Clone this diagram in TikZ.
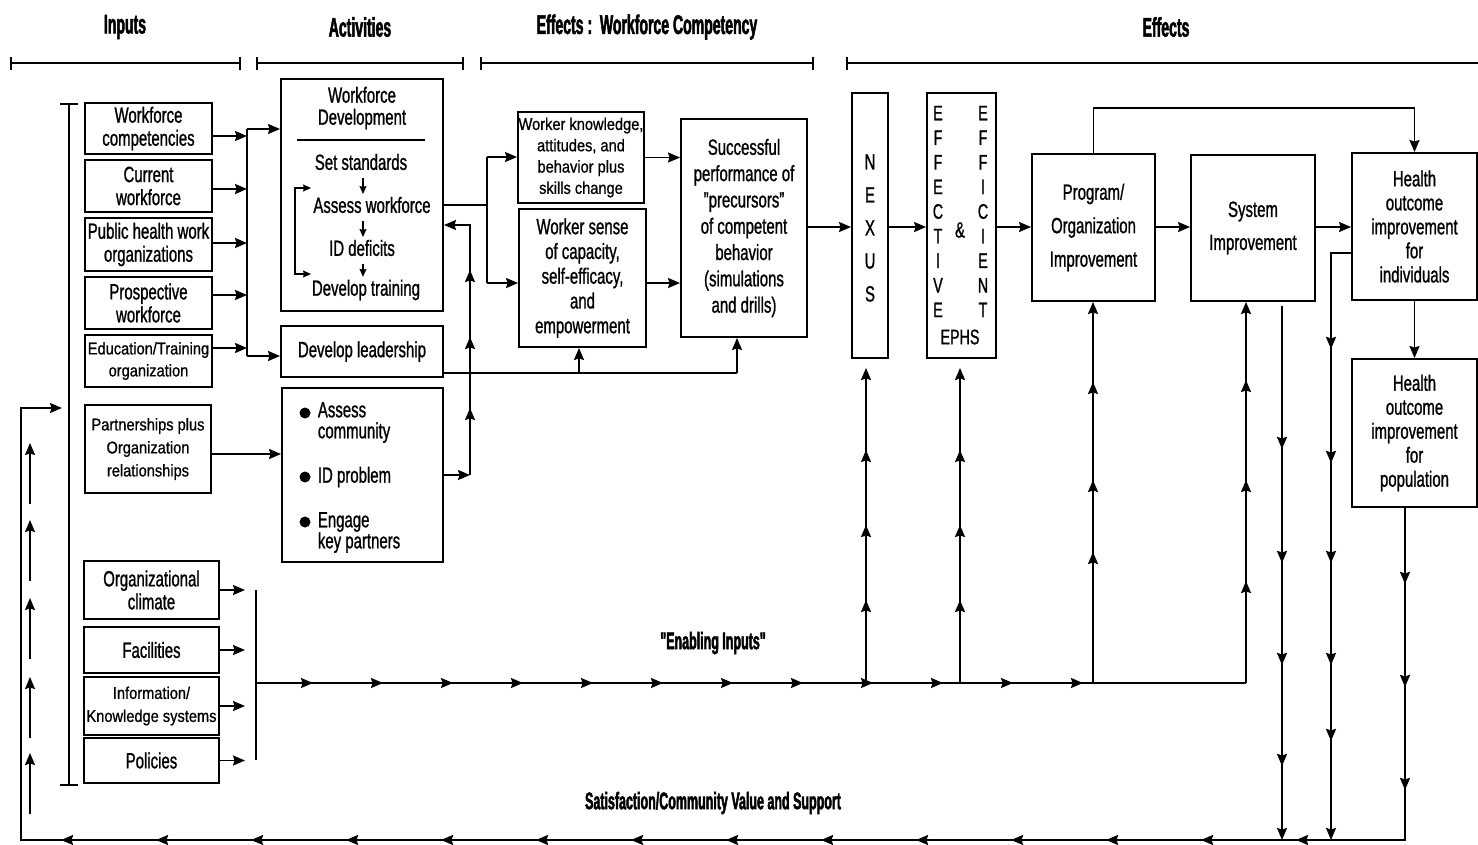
\documentclass[tikz,border=0pt]{standalone}
\usepackage{fontspec}
\setmainfont{Liberation Sans}[FakeStretch=0.68, FakeBold=1]
\newfontfamily\smallfam{Liberation Sans}[FakeStretch=0.86, FakeBold=0.8]
\newfontfamily\headfam{Liberation Sans}[FakeStretch=0.52, BoldFeatures={FakeBold=1.8}]
\usetikzlibrary{arrows.meta,decorations.markings}

\tikzset{
  box/.style={draw, line width=1.9pt, inner sep=0pt, align=center},
  sz/.style 2 args={minimum width=#1, minimum height=#2},
  txt/.style={inner sep=0pt, align=center},
  fs/.style 2 args={font=\fontsize{#1}{#2}\selectfont},
  fss/.style 2 args={font=\smallfam\fontsize{#1}{#2}\selectfont},
  hd/.style={inner sep=0pt, font=\headfam\bfseries\fontsize{#1}{#1}\selectfont},
  marr/.style={postaction={decorate,decoration={markings,
      mark=at position #1 with {\arrow{Stealth[length=12pt,width=10pt,inset=1.5pt]}}}}},
  marrs/.style={postaction={decorate,decoration={markings,
      mark=between positions #1 with {\arrow{Stealth[length=12pt,width=10pt,inset=1.5pt]}}}}},
  sarr/.style={line width=1.3pt, -{Stealth[length=8pt,width=7pt,inset=1pt]}},
  spanbar/.style={line width=1.8pt, {Bar[width=13pt]}-{Bar[width=13pt]}},
}

\begin{document}
\begin{tikzpicture}[x=1pt, y=-1pt, line width=1.8pt,
  >={Stealth[length=12pt,width=10pt,inset=1.5pt]}]

\fill[white] (0,0) rectangle (1478,844);
\useasboundingbox (0,0) rectangle (1478,844);

% ---------- column headings ----------
\node[hd=27] (hIn)  at (125,27)  {Inputs};
\node[hd=27] (hAct) at (360,27)  {Activities};
\node[hd=27] (hWc)  at (647,27)  {Effects :\ \ Workforce Competency};
\node[hd=27] (hEf)  at (1166,27) {Effects};
\draw[spanbar] (10,63) -- (241,63);
\draw[spanbar] (256,63) -- (464,63);
\draw[spanbar] (480,63) -- (814,63);
\draw[line width=1.8pt, {Bar[width=13pt]}-] (846,63) -- (1478,63);

% ---------- inputs ----------
\coordinate (brkT) at (69,104);
\coordinate (brkB) at (69,785);
\draw (brkT) -- (brkB);
\draw ([xshift=-9pt]brkT) -- ([xshift=9pt]brkT);
\draw ([xshift=-9pt]brkB) -- ([xshift=9pt]brkB);

\node[box, sz={127pt}{51pt}, fs={22}{23}] (wc) at (148.5,128.5) {Workforce\\competencies};
\node[box, sz={127pt}{52pt}, fs={22}{23}] (cw) at (148.5,186) {Current\\workforce};
\node[box, sz={127pt}{53pt}, fs={22}{23}] (ph) at (148.5,244.5) {Public health work\\organizations};
\node[box, sz={127pt}{52pt}, fs={22}{23}] (pw) at (148.5,303) {Prospective\\workforce};
\node[box, sz={127pt}{52pt}, fss={17}{22}] (et) at (148.5,361) {Education/Training\\organization};
\node[box, sz={126pt}{88pt}, fss={17}{23}] (pp) at (148,449) {Partnerships plus\\Organization\\relationships};

\node[box, sz={135pt}{58pt}, fs={22}{23}] (oc) at (151.5,590) {Organizational\\climate};
\node[box, sz={135pt}{46pt}, fs={22}{23}] (fa) at (151.5,650) {Facilities};
\node[box, sz={135pt}{58pt}, fss={17}{23}] (ik) at (151.5,706) {Information/\\Knowledge systems};
\node[box, sz={135pt}{45pt}, fs={22}{23}] (po) at (151.5,760.5) {Policies};

% ---------- activities ----------
\node[box, sz={162pt}{232pt}] (wd) at (362,195) {};
\node[txt, fs={22}{22}] (wdT) at (362,108) {Workforce\\Development};
\coordinate (ruleL) at (297,140);
\coordinate (ruleR) at (425,140);
\draw[line width=1.5pt] (ruleL) -- (ruleR);
\node[txt, fs={22}{22}] (s1) at (361,162) {Set standards};
\node[txt, fs={22}{22}] (s2) at (372,205) {Assess workforce};
\node[txt, fs={22}{22}] (s3) at (362,248) {ID deficits};
\node[txt, fs={22}{22}] (s4) at (366,290) {Develop training};
\coordinate (ax) at (363,0);
\draw[sarr, shorten <=7pt, shorten >=2pt] (s1.south -| ax) -- (s2.north -| ax);
\draw[sarr, shorten <=7pt, shorten >=2pt] (s2.south -| ax) -- (s3.north -| ax);
\draw[sarr, shorten <=7pt, shorten >=2pt] (s3.south -| ax) -- (s4.north -| ax);
\coordinate (lpA) at (311,188);
\coordinate (lpB) at (311,274);
\draw[line width=1.3pt, {Stealth[length=8pt,width=7pt,inset=1pt]}-{Stealth[length=8pt,width=7pt,inset=1pt]}]
  (lpA) -- ++(-16,0) |- (lpB);

\node[box, sz={162pt}{51pt}, fs={22}{22}] (dl) at (362,351.5) {Develop leadership};

\node[box, sz={161pt}{174pt}] (ac) at (362.5,475) {};
\node[circle, fill, inner sep=0pt, minimum size=11pt] (b1) at (305,413) {};
\node[circle, fill, inner sep=0pt, minimum size=11pt] (b2) at (305,477) {};
\node[circle, fill, inner sep=0pt, minimum size=11pt] (b3) at (305,522) {};
\node[txt, align=left, anchor=west, fs={22}{21}] (t1) at (317,422.5) {Assess\\community};
\node[txt, align=left, anchor=west, fs={22}{21}] (t2) at (317,477) {ID problem};
\node[txt, align=left, anchor=west, fs={22}{21}] (t3) at (317,532.5) {Engage\\key partners};

% ---------- workforce competency effects ----------
\node[box, sz={126pt}{91pt}, fss={17}{21.3}] (wk) at (581,157.5)
  {Worker knowledge,\\attitudes, and\\behavior plus\\skills change};
\node[box, sz={127pt}{138pt}, fs={22}{24.75}] (ws) at (582.5,278)
  {Worker sense\\of capacity,\\self-efficacy,\\and\\empowerment};
\node[box, sz={126pt}{218pt}, fs={22}{26.3}] (sp) at (744,228)
  {Successful\\performance of\\\char34 precursors\char34\\of competent\\behavior\\(simulations\\and drills)};

% ---------- effects ----------
\node[box, sz={36pt}{265pt}] (nx) at (870,225.5) {};
\node[txt, fs={22}{33}] (nxT) at (870,228) {N\\E\\X\\U\\S};
\node[box, sz={69pt}{265pt}] (ef) at (961.5,225.5) {};
\node[txt, fs={21}{24.6}] (efA) at (938,211.5) {E\\F\\F\\E\\C\\T\\I\\V\\E};
\node[txt, fs={21}{24.6}] (efB) at (983,211.5) {E\\F\\F\\I\\C\\I\\E\\N\\T};
\node[txt, fs={22}{22}] (amp) at (960,230) {\&};
\node[txt, fs={21}{22}] (ephs) at (960,337) {EPHS};

\node[box, sz={123pt}{147pt}, fs={22}{33.5}] (pr) at (1093.5,227.5) {Program/\\Organization\\Improvement};
\node[box, sz={124pt}{146pt}, fs={22}{33}] (si) at (1253,228) {System\\Improvement};
\node[box, sz={125pt}{147pt}, fs={22}{24}] (hi) at (1414.5,226.5) {Health\\outcome\\improvement\\for\\individuals};
\node[box, sz={125pt}{148pt}, fs={22}{24}] (hp) at (1414.5,433) {Health\\outcome\\improvement\\for\\population};

\node[hd=24] (enab) at (713,643) {\char34 Enabling Inputs\char34};
\node[hd=24] (satis) at (713,803) {Satisfaction/Community Value and Support};

% ---------- connectors: inputs to activities ----------
\coordinate (colTop) at (247,129);
\coordinate (colBot) at (247,356);
\draw (colTop) -- (colBot);
\coordinate (wcO) at ([yshift=-7.5pt]wc.east);
\coordinate (cwO) at ([yshift=-3pt]cw.east);
\coordinate (phO) at ([yshift=1.5pt]ph.east);
\coordinate (pwO) at ([yshift=8pt]pw.east);
\coordinate (etO) at ([yshift=13pt]et.east);
\foreach \o in {wcO,cwO,phO,pwO,etO}
  \draw[->] (\o) -- (\o -| colTop);
\draw[->] (colTop) -- (colTop -| wd.west);
\draw[->] (colBot) -- (colBot -| dl.west);

\coordinate (ppO) at ([yshift=-5pt]pp.east);
\draw[->] (ppO) -- (ppO -| ac.west);

% community work feeds back into workforce development
\coordinate (acR) at (470,475);
\coordinate (acT) at (470,225);
\draw[->] (ac.east) -- (acR);
\draw[->, marr=67pt, marr=138pt, marr=205pt] (acR) -- (acT) -- (acT -| wd.east);

% workforce development to competency effects
\coordinate (wdO) at ([yshift=-10pt]wd.east);
\coordinate (brM) at (487,205);
\coordinate (brT) at (487,157);
\coordinate (brB) at (487,283);
\draw (wdO) -- (brM);
\draw (brT) -- (brB);
\draw[->] (brT) -- (brT -| wk.west);
\draw[->] (brB) -- (brB -| ws.west);

% leadership feeds the competency effects
\coordinate (dlO) at ([yshift=-21.5pt]dl.east);
\coordinate (dlM) at (579,373);
\coordinate (dlR) at (737,373);
\draw (dlO) -- (dlR);
\draw[->] (dlM) -- (dlM |- ws.south);
\draw[->] (dlR) -- (dlR |- sp.south);

\draw[->] (wk.east) -- (wk.east -| sp.west);
\coordinate (wsO) at ([yshift=-5pt]ws.east);
\draw[->] (wsO) -- (wsO -| sp.west);

% main chain of effects
\coordinate (rowY) at (0,227);
\draw[->] (sp.east |- rowY) -- (nx.west |- rowY);
\draw[->] (nx.east |- rowY) -- (ef.west |- rowY);
\draw[->] (ef.east |- rowY) -- (pr.west |- rowY);
\draw[->] (pr.east |- rowY) -- (si.west |- rowY);
\draw[->] (si.east |- rowY) -- (hi.west |- rowY);
\coordinate (topY) at (0,108);
\draw[->] (pr.north) -- (pr.north |- topY) -| (hi.north);
\draw[->] (hi.south) -- (hp.north);

% ---------- enabling inputs ----------
\coordinate (enT) at (256,590);
\coordinate (enB) at (256,760);
\draw (enT) -- (enB);
\foreach \n in {oc,fa,ik,po}
  \draw[->, shorten >=11pt] (\n.east) -- (\n.east -| enT);
\coordinate (enM) at (256,683);
\coordinate (enE) at (1246,683);
\draw[marrs={57pt and 830pt step 70pt}] (enM) -- (enE);
\coordinate (jN) at (866,683);
\coordinate (jE) at (960,683);
\coordinate (jP) at (1093,683);
\draw[->, shorten >=9pt, marr=83pt, marr=158pt, marr=233pt] (jN) -- (jN |- nx.south);
\draw[->, shorten >=9pt, marr=83pt, marr=158pt, marr=233pt] (jE) -- (jE |- ef.south);
\draw[->, marr=131pt, marr=203pt, marr=301pt] (jP) -- (jP |- pr.south);
\draw[->, marr=102pt, marr=203pt, marr=303pt] (enE) -- (enE |- si.south);

% ---------- feedback: satisfaction / community value ----------
\coordinate (hpO) at ([xshift=-9.5pt]hp.south);
\coordinate (fbR) at (1405,840);
\coordinate (fbL) at (21,840);
\coordinate (fbT) at (21,408);
\coordinate (fbA) at (62,408);
\draw[->, marrs={76pt and 290pt step 103pt}, marrs={441pt and 1680pt step 95pt}]
  (hpO) -- (fbR) -- (fbL) -- (fbT) -- (fbA);

\coordinate (sdS) at ([xshift=29pt,yshift=-4pt]si.south);
\draw[->, marr=143pt, marr=257pt, marr=359pt, marr=460pt] (sdS) -- (sdS |- fbR);
\coordinate (hiL) at ([yshift=-26.5pt]hi.west);
\coordinate (dnA) at (1331,253);
\draw[->, marr=116pt, marr=230pt, marr=330pt, marr=432pt, marr=508pt]
  (hiL) -- (dnA) -- (dnA |- fbR);

% rising arrows beside the return line
\foreach \i/\yt in {1/443, 2/520, 3/598, 4/677, 5/753} {
  \coordinate (upA\i) at (30,\yt+61);
  \coordinate (upB\i) at (30,\yt);
  \draw[->, line width=1.5pt] (upA\i) -- (upB\i);
}

\end{tikzpicture}
\end{document}
